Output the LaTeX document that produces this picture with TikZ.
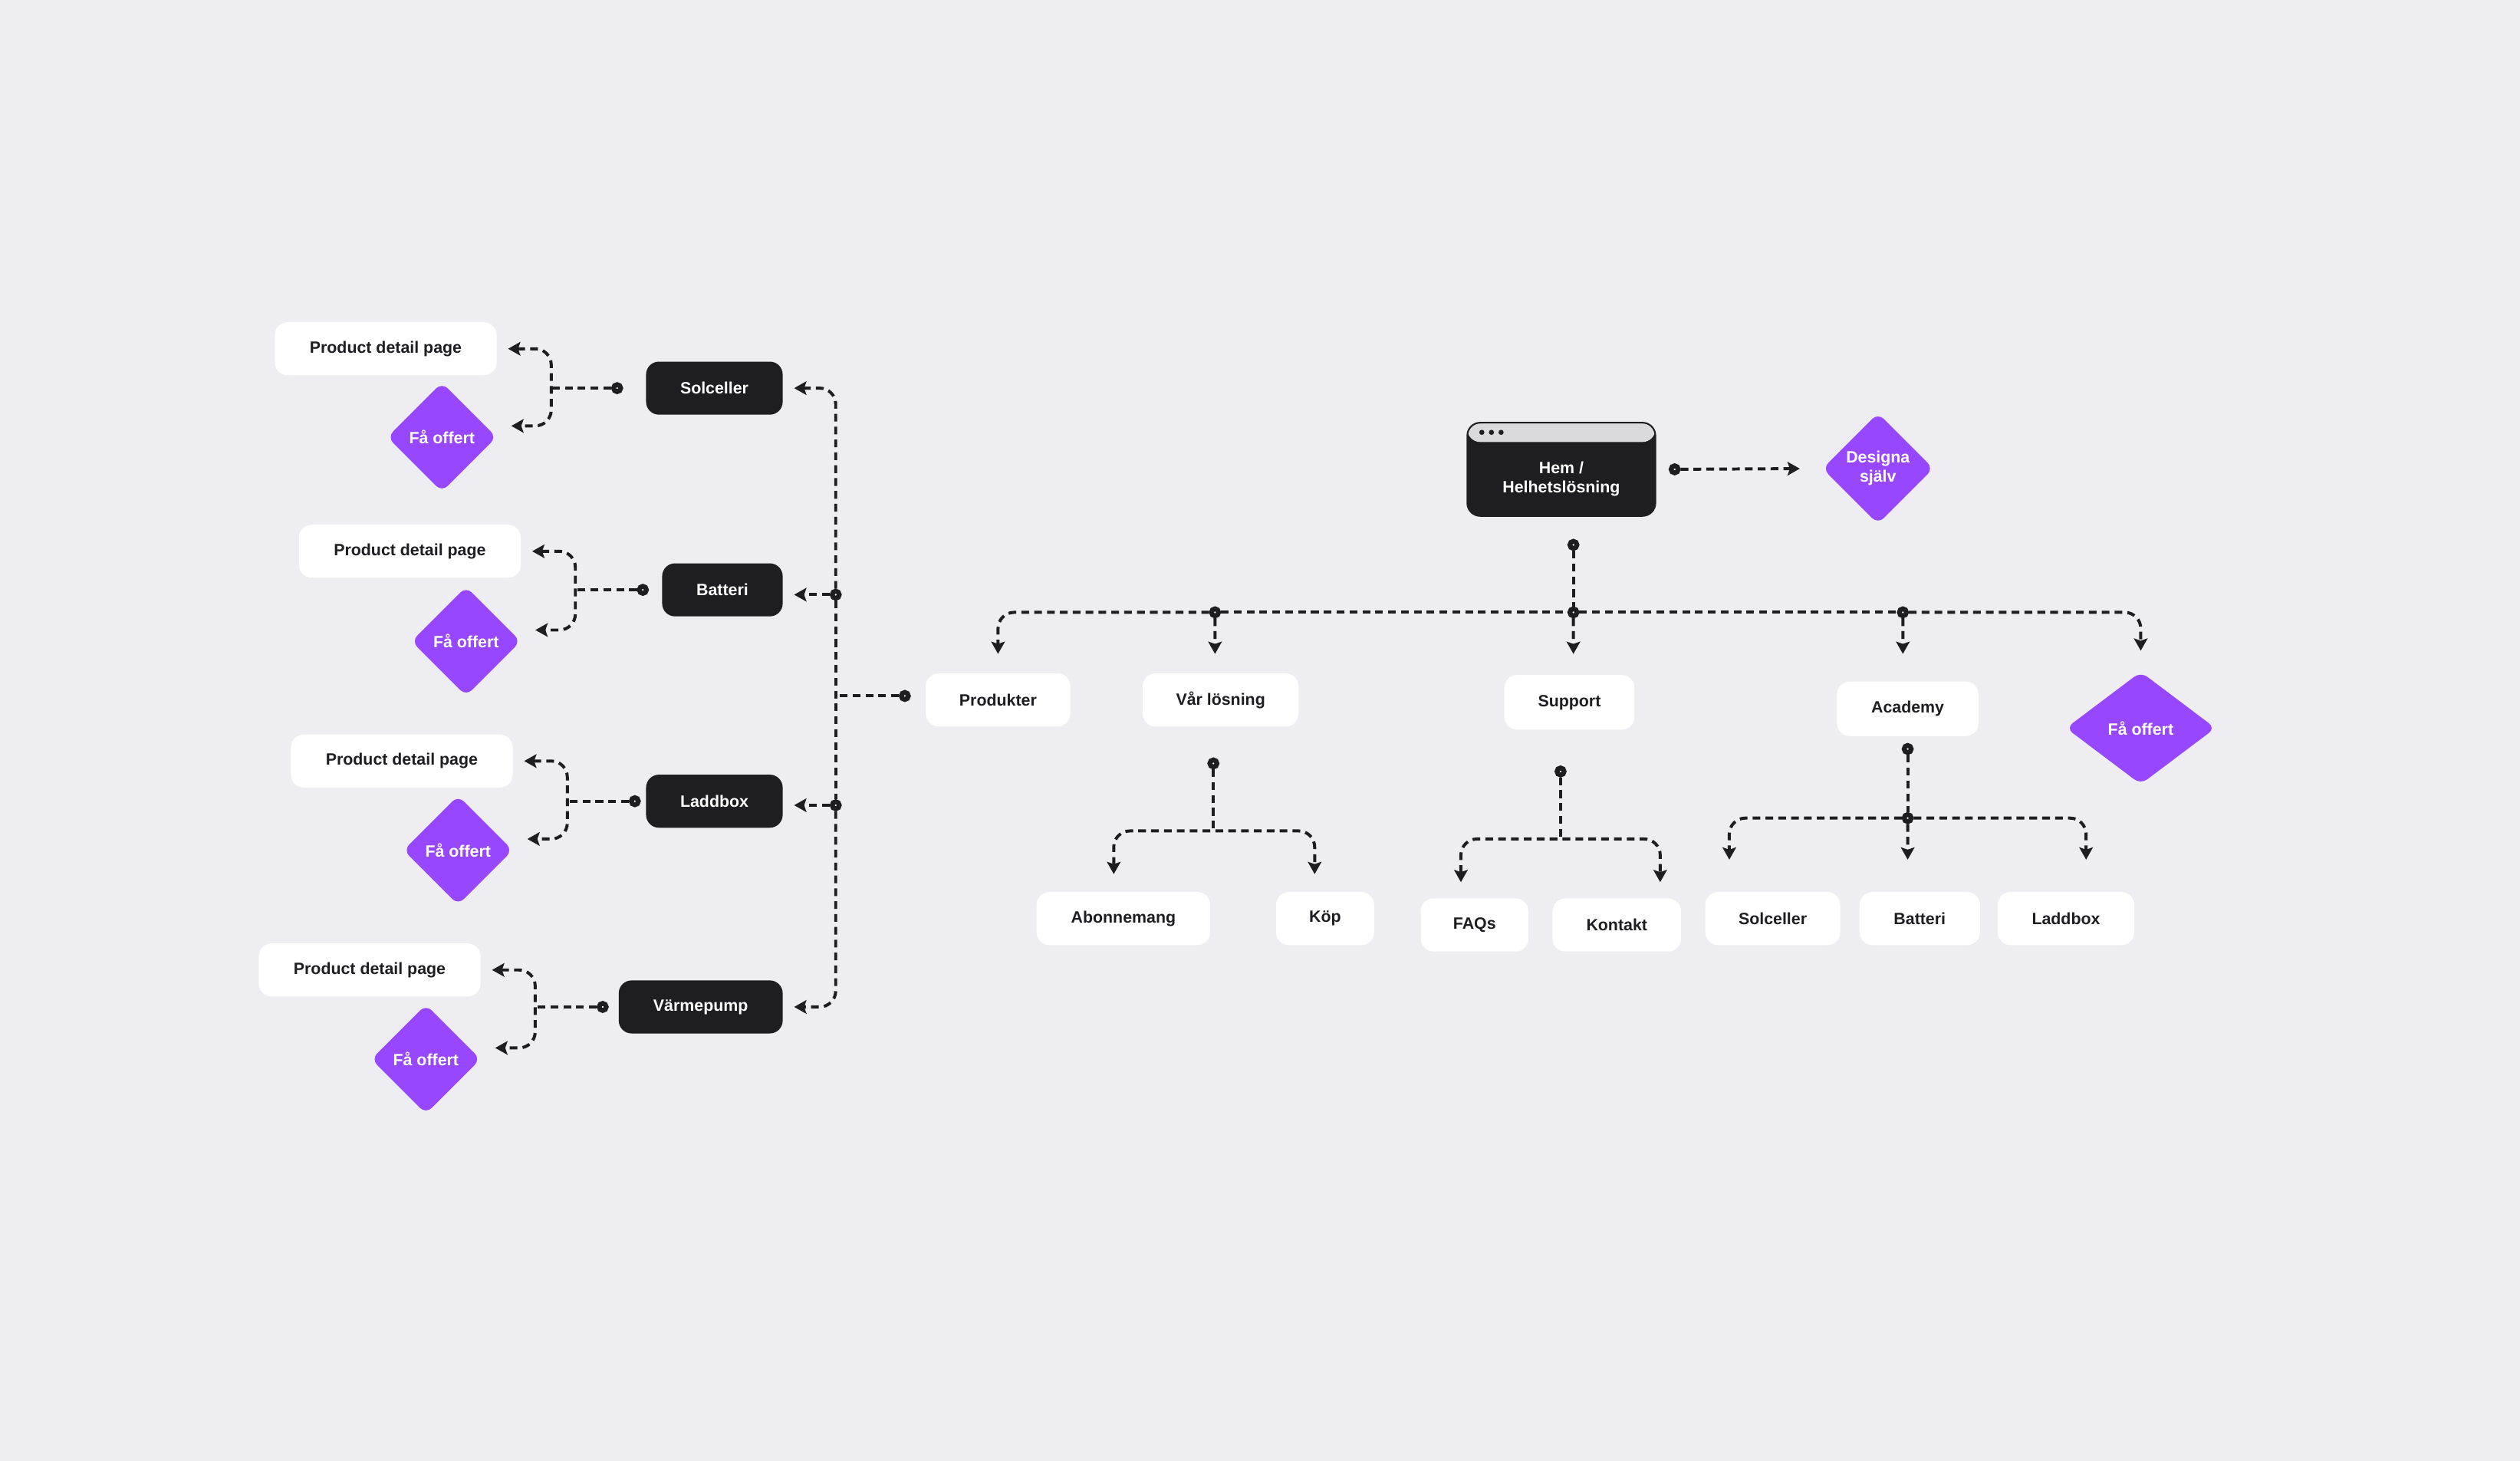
\documentclass[tikz,border=0pt]{standalone}
\usepackage{fontspec}
\setmainfont{Liberation Sans}
\usetikzlibrary{shapes.geometric,arrows.meta}
\definecolor{canvas}{HTML}{EDEDF2}
\definecolor{ink}{HTML}{1E1E22}
\definecolor{violet}{HTML}{9747FF}
\definecolor{bar}{HTML}{D9D9DE}

\begin{document}
\begin{tikzpicture}[x=0.5mm,y=-0.5mm,
  >={Stealth[length=3.8mm,width=4.2mm,inset=0.7mm]},
  txt/.style={font=\bfseries\fontsize{14.5}{17}\selectfont},
  pagebox/.style={txt,fill=white,text=ink,rounded corners=4mm,minimum height=16.5mm,inner sep=0pt},
  darkbox/.style={pagebox,fill=ink,text=white},
  offerbox/.style={txt,diamond,fill=violet,text=white,rounded corners=2.5mm,inner sep=0pt,minimum width=34mm,minimum height=34mm},
  dotmark/.style={circle,draw=ink,fill=white,line width=1.5mm,minimum size=2.2mm,inner sep=0pt},
  link/.style={draw=ink,line width=0.95mm,dash pattern=on 2.4mm off 1.6mm,rounded corners=5mm}]
\fill[canvas] (0,0) rectangle (1568,909);

\node[pagebox,minimum width=69mm] (p1) at (240,217) {Product detail page};
\node[offerbox] (f1) at (275,272) {Få offert};
\node[darkbox,minimum width=42.5mm] (sol) at (444.5,241.5) {Solceller};
\node[dotmark] (d1) at (384,241.5) {};
\coordinate (k1) at (343,241.5);

\node[pagebox,minimum width=69mm] (p2) at (255,343) {Product detail page};
\node[offerbox] (f2) at (290,399) {Få offert};
\node[darkbox,minimum width=37.5mm] (bat) at (449.5,367) {Batteri};
\node[dotmark] (d2) at (400,367) {};
\coordinate (k2) at (358,367);

\node[pagebox,minimum width=69mm] (p3) at (250,473.5) {Product detail page};
\node[offerbox] (f3) at (285,529) {Få offert};
\node[darkbox,minimum width=42.5mm] (lad) at (444.5,498.5) {Laddbox};
\node[dotmark] (d3) at (395,498.5) {};
\coordinate (k3) at (353,498.5);

\node[pagebox,minimum width=69mm] (p4) at (230,603.5) {Product detail page};
\node[offerbox] (f4) at (265,659) {Få offert};
\node[darkbox,minimum width=51mm] (vp) at (436,626.5) {Värmepump};
\node[dotmark] (d4) at (375,626.5) {};
\coordinate (k4) at (333,626.5);

\node[dotmark] (jb) at (520,370) {};
\node[dotmark] (jl) at (520,501) {};
\node[dotmark] (pd) at (563,433) {};

\node[darkbox,draw=ink,line width=0.5mm,minimum width=58.5mm,minimum height=29mm,
  path picture={\fill[bar] (path picture bounding box.north west) rectangle ([yshift=-6mm]path picture bounding box.north east);
    \foreach \i in {0,1,2}
      \fill[ink] ([shift={(4.5mm+\i*3mm,-3mm)}]path picture bounding box.north west) circle (0.8mm);}] (hem) at (971.5,292) {};
\node[txt,text=white,align=center] (hemt) at ([yshift=-3mm]hem.center) {Hem /\\Helhetslösning};
\node[offerbox,align=center,minimum width=34.5mm,minimum height=34.5mm] (des) at (1168.5,291.5) {Designa\\själv};
\node[dotmark] (hr) at (1042,292) {};
\node[dotmark] (hd) at (979,339) {};

\node[pagebox,minimum width=45mm] (prod) at (621,435.5) {Produkter};
\node[pagebox,minimum width=48.5mm] (var) at (759.5,435.5) {Vår lösning};
\node[pagebox,minimum width=40.5mm,minimum height=17mm] (sup) at (976.5,437) {Support};
\node[pagebox,minimum width=44mm,minimum height=17mm] (aca) at (1187,441) {Academy};
\node[offerbox,minimum width=46.5mm,minimum height=35mm] (off) at (1332,453) {Få offert};
\node[dotmark] (vj) at (756,381) {};
\node[dotmark] (hj) at (979,381) {};
\node[dotmark] (aj) at (1184,381) {};

\node[pagebox,minimum width=54mm] (abo) at (699,571.5) {Abonnemang};
\node[pagebox,minimum width=30.5mm] (kop) at (824.5,571.5) {Köp};
\node[dotmark] (vd) at (755,475) {};
\coordinate (vt) at (755,517);

\node[pagebox,minimum width=33.5mm] (faq) at (917.5,575.5) {FAQs};
\node[pagebox,minimum width=40mm] (kon) at (1006,575.5) {Kontakt};
\node[dotmark] (sd) at (971,480) {};
\coordinate (st) at (971,522);

\node[pagebox,minimum width=42mm] (sol2) at (1103,571.5) {Solceller};
\node[pagebox,minimum width=37.5mm] (bat2) at (1194.5,571.5) {Batteri};
\node[pagebox,minimum width=42.5mm] (lad2) at (1285.5,571.5) {Laddbox};
\node[dotmark] (ad) at (1187,466) {};
\node[dotmark] (ac) at (1187,509) {};

\draw[link] (d1) -- (k1);
\draw[link,<->] ([xshift=3.5mm]p1.east) -| (k1) |- ([shift={(4.5mm,3.5mm)}]f1.east);
\draw[link] (d2) -- (k2);
\draw[link,<->] ([xshift=3.5mm]p2.east) -| (k2) |- ([shift={(4.5mm,3.5mm)}]f2.east);
\draw[link] (d3) -- (k3);
\draw[link,<->] ([xshift=3.5mm]p3.east) -| (k3) |- ([shift={(4.5mm,3.5mm)}]f3.east);
\draw[link] (d4) -- (k4);
\draw[link,<->] ([xshift=3.5mm]p4.east) -| (k4) |- ([shift={(4.5mm,3.5mm)}]f4.east);

\draw[link,->] (jb) |- ([xshift=3.5mm]sol.east);
\draw[link] (jb) -- (jl);
\draw[link,->] (jl) |- ([xshift=3.5mm]vp.east);
\draw[link,->,shorten >=3.5mm] (jb) -- (jb -| bat.east);
\draw[link,->,shorten >=3.5mm] (jl) -- (jl -| lad.east);
\draw[link] (pd) -- (pd -| jb);

\draw[link,->,shorten >=7mm] (hr) -- (des.west);
\draw[link] (hd) -- (hj);
\draw[link,->] (vj) -| ([yshift=6mm]prod.north);
\draw[link] (vj) -- (hj) -- (aj);
\draw[link,->] (aj) -| ([yshift=6.5mm]off.north);
\draw[link,->] (vj) -- ([shift={(-1.75mm,6mm)}]var.north);
\draw[link,->] (hj) -- ([shift={(1.25mm,6.5mm)}]sup.north);
\draw[link,->] (aj) -- ([shift={(-1.5mm,8.5mm)}]aca.north);

\draw[link] (vd) -- (vt);
\draw[link,<->] ([shift={(-3mm,5.5mm)}]abo.north) |- (vt) -| ([shift={(-3.25mm,5.5mm)}]kop.north);
\draw[link] (sd) -- (st);
\draw[link,<->] ([shift={(-4.25mm,5mm)}]faq.north) |- (st) -| ([shift={(13.5mm,5mm)}]kon.north);
\draw[link] (ad) -- (ac);
\draw[link,->] (ac) -| ([shift={(-13.5mm,10mm)}]sol2.north);
\draw[link,->] (ac) -| ([shift={(6.25mm,10mm)}]lad2.north);
\draw[link,->] (ac) -- ([shift={(-3.75mm,10mm)}]bat2.north);
\end{tikzpicture}
\end{document}
